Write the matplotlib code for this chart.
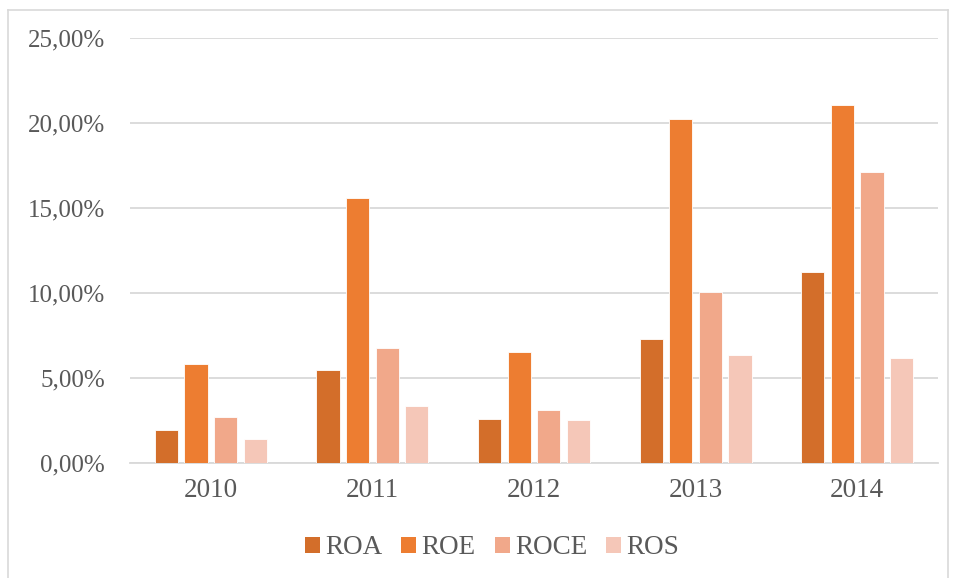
import matplotlib
matplotlib.use("Agg")
import matplotlib.pyplot as plt
import numpy as np
from matplotlib.patches import Patch
from matplotlib.lines import Line2D
from matplotlib.ticker import FuncFormatter

years = ["2010", "2011", "2012", "2013", "2014"]
series_names = ["ROA", "ROE", "ROCE", "ROS"]
roa = [1.92, 5.46, 2.58, 7.30, 11.24]
roe = [5.81, 15.58, 6.55, 20.22, 21.05]
roce = [2.72, 6.79, 3.14, 10.08, 17.13]
ros = [1.43, 3.37, 2.54, 6.38, 6.20]
values = [roa, roe, roce, ros]
colors = ["#D36E2A", "#ED7D31", "#F1A88A", "#F5C7B8"]

plt.rcParams["font.family"] = ["Liberation Serif", "DejaVu Serif"]
fig = plt.figure(figsize=(9.55, 5.78), dpi=100)
ax = fig.add_axes([130/955, 1-463/578, (938-130)/955, (463-38)/578])

x = np.arange(len(years))
pitch = 0.183
width = 0.143
for i, (vals, c) in enumerate(zip(values, colors)):
    ax.bar(x + (i-1.5)*pitch, vals, width, color=c, edgecolor="white",
           linewidth=0.6, zorder=3, label=series_names[i])

ax.set_xlim(-0.5, len(years)-0.5)
ax.set_ylim(0, 25)
ax.set_yticks(np.arange(0, 26, 5))
ax.yaxis.set_major_formatter(FuncFormatter(lambda v, p: f"{v:.2f}".replace(".", ",") + "%"))
ax.set_xticks(x)
ax.set_xticklabels(years)
ax.tick_params(axis="both", length=0, colors="#595959")
ax.tick_params(axis="y", pad=18, labelsize=18)
ax.tick_params(axis="x", pad=11, labelsize=19.5)
ax.grid(axis="y", color="#D9D9D9", linewidth=1.3, zorder=0)
for s in ["top", "right", "left"]:
    ax.spines[s].set_visible(False)
ax.spines["bottom"].set_color("#D9D9D9")
ax.spines["bottom"].set_linewidth(1.3)

handles = [Patch(facecolor=c, edgecolor="none") for c in colors]
leg = fig.legend(handles, series_names, loc="center", ncol=4,
                 bbox_to_anchor=(492/955, 1-548/578), frameon=False,
                 fontsize=19.5, handlelength=0.55, handleheight=0.55,
                 handletextpad=0.2, columnspacing=0.7)
for t in leg.get_texts():
    t.set_color("#595959")

# outer chart border
bc = "#D9D9D9"
fig.add_artist(Line2D([8/955, 8/955], [0, 1-10/578], color=bc, lw=1.2, transform=fig.transFigure))
fig.add_artist(Line2D([8/955, 948/955], [1-10/578, 1-10/578], color=bc, lw=1.2, transform=fig.transFigure))
fig.add_artist(Line2D([948/955, 948/955], [0, 1-10/578], color=bc, lw=1.2, transform=fig.transFigure))

fig.savefig("out.png", dpi=100)
